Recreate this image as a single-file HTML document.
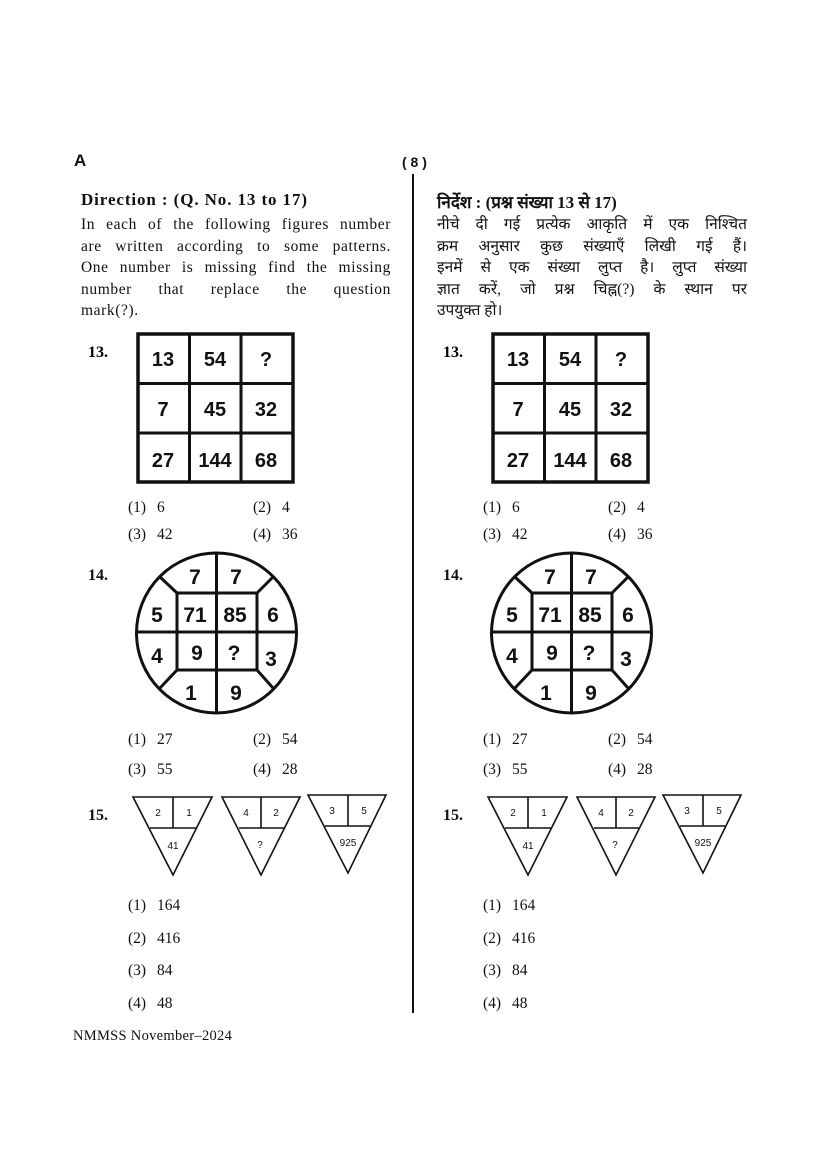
<!DOCTYPE html>
<html><head><meta charset="utf-8"><style>
html,body{margin:0;padding:0;background:#fff}
#p{position:relative;width:826px;height:1169px;overflow:hidden;font-family:"Liberation Serif",serif;color:#111}
.t{position:absolute;white-space:nowrap;font-size:15.5px}
.l{position:absolute;width:310px;font-size:15.5px;letter-spacing:0.6px;text-align:justify;text-align-last:justify;white-space:nowrap;height:21px;line-height:21px}
.h{font-family:"Liberation Serif","Noto Sans CJK SC",serif;letter-spacing:0}
svg{position:absolute;left:0;top:0}
</style></head><body><div id="p">
<div class="t" style="left:74px;top:151px;font-family:'Liberation Sans',sans-serif;font-weight:bold;font-size:17px">A</div>
<div class="t" style="left:402px;top:154px;font-family:'Liberation Sans',sans-serif;font-weight:bold;font-size:14px">( 8 )</div>
<div class="t" style="left:81px;top:190px;font-size:17px;font-weight:bold;letter-spacing:0.9px">Direction : (Q. No. 13 to 17)</div>
<div class="l" style="left:81px;top:214px">In each of the following figures number</div>
<div class="l" style="left:81px;top:236px">are written according to some patterns.</div>
<div class="l" style="left:81px;top:257px">One number is missing find the missing</div>
<div class="l" style="left:81px;top:279px">number that replace the question</div>
<div class="l" style="left:81px;top:300px;text-align-last:left">mark(?).</div>
<div class="t h" style="left:437px;top:190px;font-size:17px;font-weight:bold">निर्देश : (प्रश्न संख्या 13 से 17)</div>
<div class="l h" style="left:437px;top:214px">नीचे दी गई प्रत्येक आकृति में एक निश्चित</div>
<div class="l h" style="left:437px;top:236px">क्रम अनुसार कुछ संख्याएँ लिखी गई हैं।</div>
<div class="l h" style="left:437px;top:257px">इनमें से एक संख्या लुप्त है। लुप्त संख्या</div>
<div class="l h" style="left:437px;top:279px">ज्ञात करें, जो प्रश्न चिह्न(?) के स्थान पर</div>
<div class="l h" style="left:437px;top:300px;text-align-last:left">उपयुक्त हो।</div>
<div class="t" style="left:73px;top:1028px;font-size:14.5px;letter-spacing:0.3px">NMMSS November–2024</div>
<svg width="826" height="1169" viewBox="0 0 826 1169">
<line x1="413" y1="174" x2="413" y2="1013" stroke="#111" stroke-width="2"/>
<defs>
<g id="col">
<text x="88" y="357" font-family="Liberation Serif" font-weight="bold" font-size="16">13.</text>
<g stroke="#111" fill="none">
<rect x="138" y="334" width="155" height="148" stroke-width="3.5"/>
<line x1="189.5" y1="334" x2="189.5" y2="482" stroke-width="3"/>
<line x1="241" y1="334" x2="241" y2="482" stroke-width="3"/>
<line x1="138" y1="383.5" x2="293" y2="383.5" stroke-width="3"/>
<line x1="138" y1="433" x2="293" y2="433" stroke-width="3"/>
</g>
<g font-family="Liberation Sans" font-weight="bold" font-size="20" text-anchor="middle" fill="#111">
<text x="163" y="366">13</text><text x="215" y="366">54</text><text x="266" y="366">?</text>
<text x="163" y="416">7</text><text x="215" y="416">45</text><text x="266" y="416">32</text>
<text x="163" y="467">27</text><text x="215" y="467">144</text><text x="266" y="467">68</text>
</g>
<g font-family="Liberation Serif" font-size="15.5" fill="#111">
<text x="128" y="512">(1)</text><text x="157" y="512">6</text><text x="253" y="512">(2)</text><text x="282" y="512">4</text>
<text x="128" y="539">(3)</text><text x="157" y="539">42</text><text x="253" y="539">(4)</text><text x="282" y="539">36</text>
<text x="88" y="580" font-weight="bold" font-size="16">14.</text>
<text x="128" y="744">(1)</text><text x="157" y="744">27</text><text x="253" y="744">(2)</text><text x="282" y="744">54</text>
<text x="128" y="774">(3)</text><text x="157" y="774">55</text><text x="253" y="774">(4)</text><text x="282" y="774">28</text>
<text x="88" y="820" font-weight="bold" font-size="16">15.</text>
<text x="128" y="910">(1)</text><text x="157" y="910">164</text>
<text x="128" y="943">(2)</text><text x="157" y="943">416</text>
<text x="128" y="975">(3)</text><text x="157" y="975">84</text>
<text x="128" y="1008">(4)</text><text x="157" y="1008">48</text>
</g>
<g stroke="#111" fill="none" stroke-width="3">
<circle cx="216.5" cy="633" r="80"/>
<rect x="177" y="593" width="80" height="77"/>
<line x1="216.5" y1="553" x2="216.5" y2="713"/>
<line x1="136.5" y1="632" x2="296.5" y2="632"/>
<line x1="177" y1="593" x2="160" y2="577"/>
<line x1="257" y1="593" x2="273" y2="577"/>
<line x1="177" y1="670" x2="160" y2="688"/>
<line x1="257" y1="670" x2="273" y2="688"/>
</g>
<g font-family="Liberation Sans" font-weight="bold" font-size="21" text-anchor="middle" fill="#111">
<text x="195" y="584">7</text><text x="236" y="584">7</text>
<text x="157" y="622">5</text><text x="195" y="622">71</text><text x="235" y="622">85</text><text x="273" y="622">6</text>
<text x="157" y="663">4</text><text x="197" y="660">9</text><text x="234" y="660">?</text><text x="271" y="666">3</text>
<text x="191" y="700">1</text><text x="236" y="700">9</text>
</g>
<g stroke="#111" fill="none" stroke-width="1.6">
<polygon points="133,797 212,797 173,875"/><line x1="150" y1="828" x2="196" y2="828"/><line x1="173" y1="797" x2="173" y2="828"/>
<polygon points="222,797 300,797 261,875"/><line x1="239" y1="828" x2="284" y2="828"/><line x1="261" y1="797" x2="261" y2="828"/>
<polygon points="308,795 386,795 348,873"/><line x1="325" y1="826" x2="370" y2="826"/><line x1="348" y1="795" x2="348" y2="826"/>
</g>
<g font-family="Liberation Sans" font-size="10" text-anchor="middle" fill="#111">
<text x="158" y="816">2</text><text x="189" y="816">1</text><text x="173" y="849">41</text>
<text x="246" y="816">4</text><text x="276" y="816">2</text><text x="260" y="848">?</text>
<text x="332" y="814">3</text><text x="364" y="814">5</text><text x="348" y="846">925</text>
</g>
</g>
</defs>
<use href="#col"/>
<use href="#col" x="355"/>
</svg>
</div></body></html>
